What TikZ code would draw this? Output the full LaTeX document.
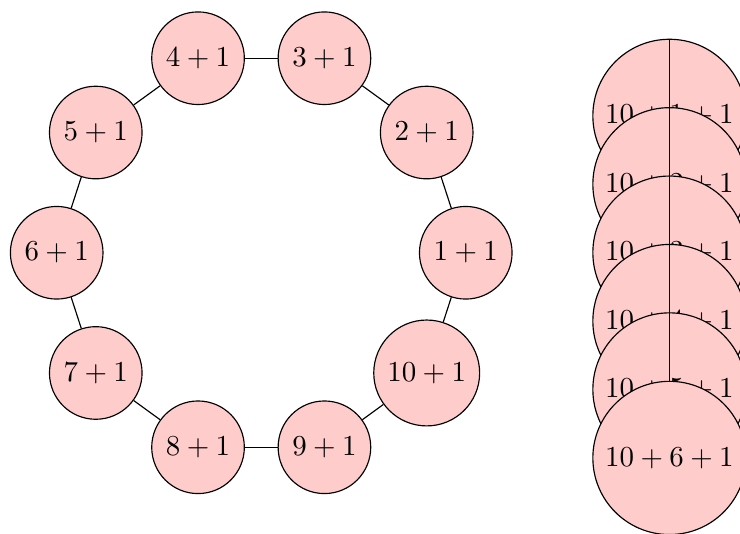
\documentclass[tikz,border=0pt]{standalone}
\usepackage{tikz}
\usetikzlibrary{positioning}
\tikzset{
  ring/.style={circle, draw, fill=red!20},
  link/.style={draw, thin}
}
\begin{document}
\begin{tikzpicture}[x=1cm,y=1cm]
  \useasboundingbox (-3.174,-3.417) rectangle (5.817,3.071);
  % ring of ten
  \foreach \i in {1,...,10} {
    \node[ring] (r\i) at ({(\i-1)*36}:2.485) {$\i+1$};
  }
  \foreach \a/\b in {1/2,2/3,3/4,4/5,5/6,6/7,7/8,8/9,9/10,10/1} {
    \draw[link] (r\a) -- (r\b);
  }
  % stacked column
  \foreach \k in {1,...,5} {
    \node[ring] (s\k) at (4.96,{1.663-(\k-1)*0.831}) {$10+\k+1$};
  }
  \draw[link] (s1.north) -- (s5.center);
  \node[ring] (s6) at (4.96,-2.493) {$10+6+1$};
\end{tikzpicture}
\end{document}
